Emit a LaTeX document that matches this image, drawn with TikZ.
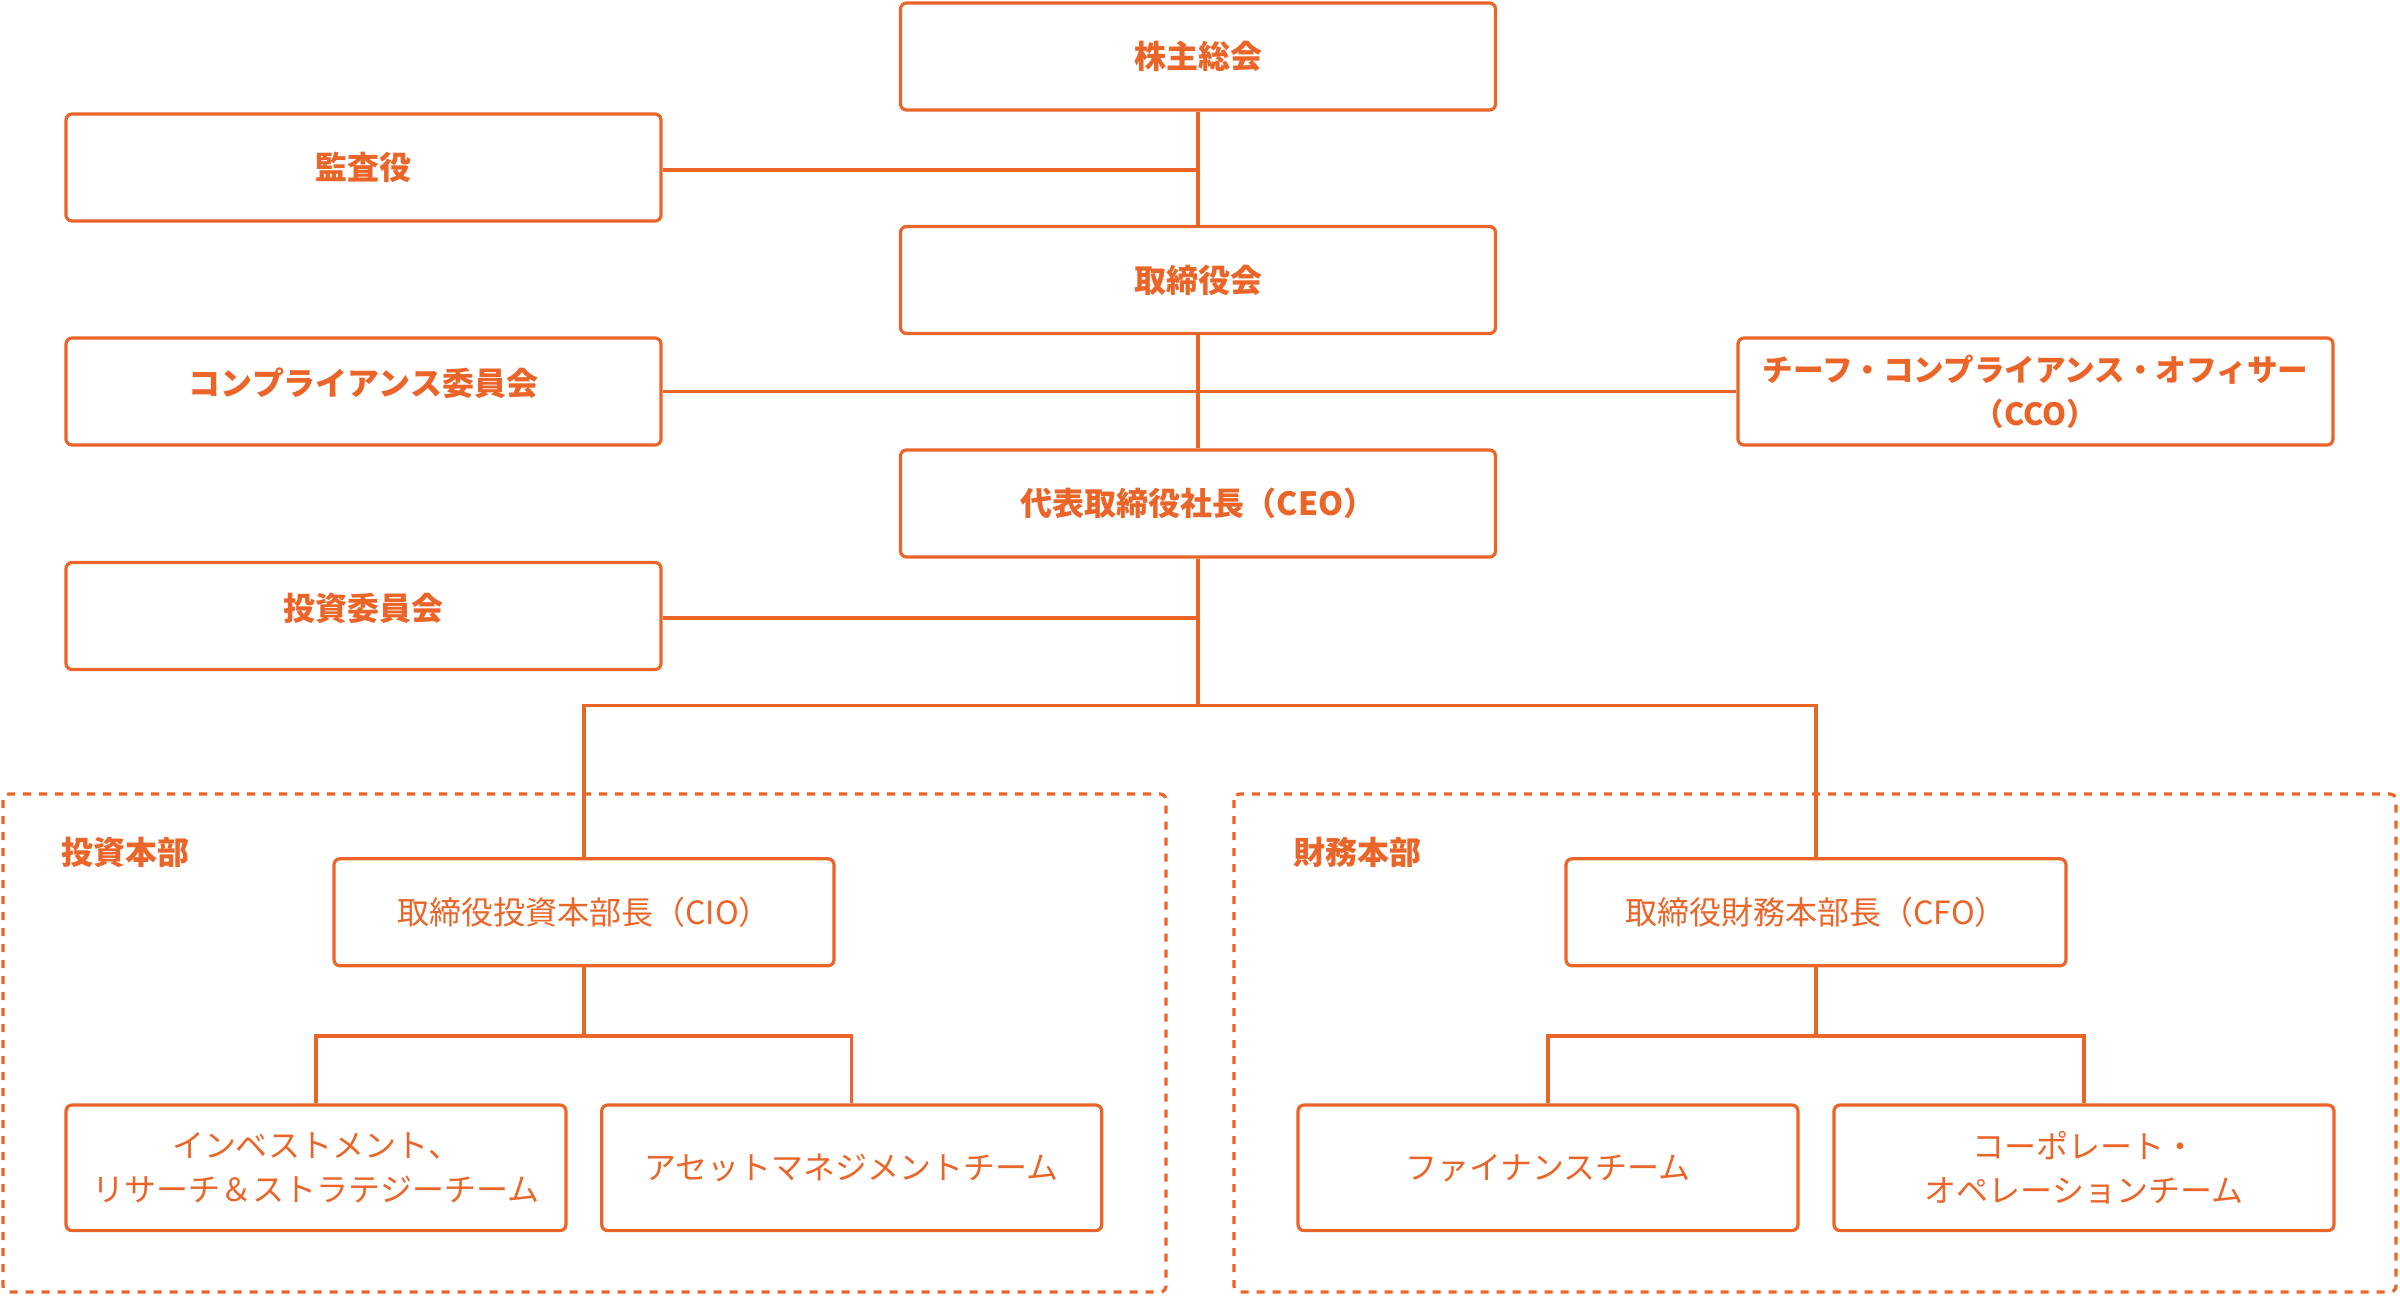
\documentclass[tikz,border=0pt]{standalone}
\usepackage{fontspec}
\setmainfont{Noto Sans CJK JP}
\definecolor{org}{HTML}{EB6428}
\tikzset{
  box/.style={draw=org, line width=1.6pt, rounded corners=3pt, text=org, align=center,
    font=\fontsize{16pt}{22pt}\selectfont, inner sep=0pt},
  topbox/.style={box, minimum width=297.5pt, minimum height=53.5pt, font=\fontsize{16pt}{22pt}\selectfont\bfseries},
  raised/.style={text height=14pt, text depth=10pt},
  midbox/.style={box, minimum width=250pt, minimum height=53.5pt},
  teambox/.style={box, minimum width=250pt, minimum height=62.8pt},
  conn/.style={draw=org, line width=1.6pt},
  dashbox/.style={draw=org, line width=1.6pt, dash pattern=on 4pt off 4pt, rounded corners=3pt},
  dlabel/.style={text=org, anchor=west, inner sep=0pt, font=\fontsize{16pt}{22pt}\selectfont\bfseries}
}
\begin{document}
\begin{tikzpicture}[x=0.5pt, y=-0.5pt]
\useasboundingbox (0,0) rectangle (2400,1296);
% dashed department frames
\draw[dashbox] (3,794) rectangle (1166,1292);
\draw[dashbox] (1234,794) rectangle (2396,1292);
\node[dlabel] (l1) at (61,852.6) {投資本部};
\node[dlabel] (l2) at (1293,852.6) {財務本部};
% top boxes
\node[topbox] (s) at (1198,56.5) {株主総会};
\node[topbox] (kansa) at (363.5,167.5) {監査役};
\node[topbox] (b) at (1198,280) {取締役会};
\node[topbox, raised] (comp) at (363.5,391.5) {コンプライアンス委員会};
\node[topbox, font=\fontsize{15.3pt}{22pt}\selectfont\bfseries] (cco) at (2035.5,391.5) {チーフ・コンプライアンス・オフィサー\\（CCO）};
\node[topbox] (ceo) at (1198,503.5) {代表取締役社長（CEO）};
\node[topbox, raised] (inv) at (363.5,616) {投資委員会};
% middle
\node[midbox] (cio) at (584,912.3) {取締役投資本部長（CIO）};
\node[midbox] (cfo) at (1816,912.3) {取締役財務本部長（CFO）};
% teams
\node[teambox] (t1) at (316,1167.8) {インベストメント、\\リサーチ＆ストラテジーチーム};
\node[teambox] (t2) at (851.7,1167.8) {アセットマネジメントチーム};
\node[teambox] (t3) at (1548,1167.8) {ファイナンスチーム};
\node[teambox] (t4) at (2084,1167.8) {コーポレート・\\オペレーションチーム};
% coordinates
\coordinate (br) at (1198,705.6);
\coordinate (cioj) at (584,1036);
\coordinate (cfoj) at (1816,1036);
% connectors
\draw[conn] (s.south) -- (b.north);
\draw[conn] (b.south) -- (ceo.north);
\draw[conn] (ceo.south) -- (br);
\draw[conn] (kansa.east |- 0,170) -- (s.south |- 0,170);
\draw[conn] (comp.east) -- (cco.west);
\draw[conn] (inv.east |- 0,618) -- (ceo.south |- 0,618);
\draw[conn] (cio.north) |- (br) -| (cfo.north);
\draw[conn] (cio.south) -- (cioj);
\draw[conn] (t1.north) |- (cioj) -| (t2.north);
\draw[conn] (cfo.south) -- (cfoj);
\draw[conn] (t3.north) |- (cfoj) -| (t4.north);
\end{tikzpicture}
\end{document}
